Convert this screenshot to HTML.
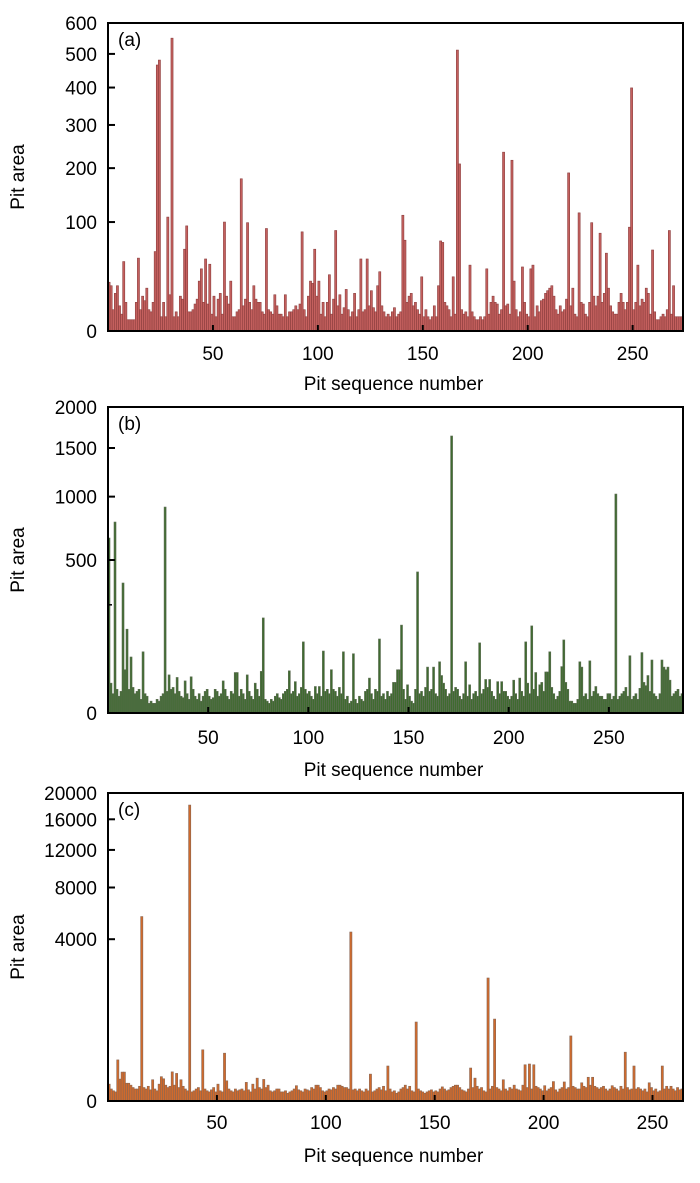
<!DOCTYPE html>
<html><head><meta charset="utf-8"><style>
html,body{margin:0;padding:0;background:#fff;}
svg{display:block;font-family:"Liberation Sans",Arial,sans-serif;}
</style></head><body>
<svg id="fig" width="700" height="1183" viewBox="0 0 700 1183" xmlns="http://www.w3.org/2000/svg"></svg>
<script>
const valuesA = [
25,22,6,16,22,8,4,46,10,2,
2,2,2,10,50,6,14,11,20,6,
5,10,58,466,481,3,10,3,108,15,
550,3,5,3,14,12,61,94,5,5,
6,9,12,26,38,10,49,9,43,4,
14,3,12,16,4,100,14,9,26,3,
3,5,6,178,8,12,99,10,6,22,
12,10,10,5,4,90,6,5,4,15,
8,4,4,3,15,3,5,5,6,8,
6,9,85,6,3,14,26,24,61,14,
26,4,10,3,10,32,4,12,87,8,
15,4,7,19,6,3,5,16,3,6,
49,5,6,49,8,18,7,5,22,35,
8,5,3,4,3,5,7,3,4,5,
111,73,10,14,16,8,10,6,4,30,
3,6,3,2,3,8,3,22,72,70,
10,8,6,3,30,4,512,209,6,4,
5,3,42,5,3,2,2,3,2,3,
38,4,10,14,10,9,4,6,235,8,
9,4,217,26,6,3,5,40,10,4,
3,38,42,3,8,5,11,12,16,18,
20,22,14,6,4,8,5,6,12,190,
8,20,4,3,115,10,9,4,3,10,
99,14,8,14,83,10,16,56,20,8,
5,4,4,10,16,10,6,10,92,399,
6,10,42,8,12,10,20,16,4,60,
5,2,2,3,4,3,6,87,4,22,
3,3,3,3];
const valuesB = [
654,19,8,779,12,6,10,361,40,150,
12,67,14,8,10,12,4,80,8,6,
2,3,2,2,4,3,6,8,906,10,
31,12,14,8,27,10,6,5,22,8,
4,28,12,6,4,8,3,6,10,12,
6,4,5,12,10,6,8,22,12,6,
4,10,8,35,35,6,12,8,4,31,
10,6,4,19,12,6,37,193,4,3,
2,4,3,6,8,5,4,8,10,12,
38,8,10,21,6,8,14,108,12,8,
10,6,4,15,8,15,6,82,10,12,
8,40,12,10,6,14,8,80,4,6,
2,3,75,4,2,6,4,3,10,12,
26,8,4,12,10,117,6,8,4,10,
6,8,20,20,40,40,165,12,4,17,
6,3,2,12,425,8,10,6,14,45,
10,12,45,8,6,56,30,19,12,6,
8,1639,10,14,12,6,4,8,56,6,
17,4,8,10,6,105,8,12,24,14,
24,10,6,4,21,8,21,10,10,6,
4,6,23,8,4,26,10,6,108,19,
8,162,12,35,6,17,20,10,36,36,
80,14,8,4,6,10,46,114,20,12,
3,3,2,2,4,56,45,6,8,4,
58,6,10,15,8,6,6,4,4,8,
8,4,6,1024,4,6,8,10,14,6,
70,4,6,8,4,13,78,20,16,30,
10,60,8,6,4,8,60,45,40,45,
23,6,8,10,12,6,8];
const valuesC = [
14,6,4,3,130,27,54,54,16,16,
12,8,6,6,10,5550,8,6,10,5,
25,6,4,14,35,28,12,8,10,55,
12,48,8,25,10,6,4,18100,3,4,
6,8,4,225,6,4,3,5,8,3,
14,4,3,190,22,6,4,3,6,4,
5,6,4,18,5,3,14,6,30,8,
6,26,8,12,4,3,4,6,6,3,
3,4,2,3,4,6,11,5,4,3,
6,5,4,8,6,12,12,8,4,3,
4,6,5,8,6,12,12,10,8,8,
6,4460,5,6,4,6,4,3,6,4,
45,3,4,6,8,5,10,4,87,6,
3,4,2,3,6,8,12,6,10,4,
3,666,6,4,3,2,3,4,5,3,
4,3,6,9,6,4,5,8,10,12,
12,8,5,4,3,6,75,8,30,10,
6,8,4,3,2016,6,10,730,8,6,
4,25,6,4,8,6,12,6,5,4,
12,95,8,100,6,95,10,8,6,4,
11,4,6,8,20,5,3,6,8,19,
6,8,410,10,8,6,6,17,10,8,
33,12,33,10,8,6,8,10,6,4,
6,11,8,6,4,10,6,200,8,5,
6,87,6,8,6,4,6,3,17,8,
4,6,3,4,87,6,10,6,10,6,
4,8,5,6];
const yTicksA = [0,100,200,300,400,500,600];
const yTicksB = [0,500,1000,1500,2000];
const yMinorB = [250];
const yTicksC = [0,4000,8000,12000,16000,20000];
const xTicks = [50,100,150,200,250];

const NS = "http://www.w3.org/2000/svg";
const svg = document.getElementById('fig');
function mk(tag, attrs, parent){
  const e = document.createElementNS(NS, tag);
  for (const k in attrs) e.setAttribute(k, attrs[k]);
  (parent||svg).appendChild(e);
  return e;
}
const L = 108, R = 683;
function panel(key, vals, yTicks, minor, ymax, pw, top, base, fill, stroke, label, xLabelY, titleY){
  const g = mk('g', {});
  
  
  const n = vals.length;
  const bw = (R - L) / n;
  const xs = v => L + v * bw;
  const ys = v => base - (base - top) * Math.pow(v / ymax, pw);
  const bars = mk('g', {}, g);
  
  
  vals.forEach((v, i) => {
    const y = ys(v);
    const r = mk('rect', {x: xs(i).toFixed(2), y: y.toFixed(2), width: bw.toFixed(2), height: (base - y).toFixed(2), fill: fill, stroke: stroke, 'stroke-width': 0.6}, bars);
    
    
  });
  const frame = mk('rect', {x: L, y: top, width: R - L, height: base - top, fill: 'none', stroke: '#000', 'stroke-width': 2}, g);
  
  
  yTicks.forEach(t => {
    const y = ys(t);
    const tk = mk('line', {x1: L, x2: L + 7, y1: y, y2: y, stroke: '#000', 'stroke-width': 2}, g);
    
    
    const tx = mk('text', {x: 97, y: y + 7, 'text-anchor': 'end', 'font-size': 19, fill: '#000'}, g);
    
    
    tx.textContent = t;
  });
  minor.forEach(t => {
    const y = ys(t);
    const tk = mk('line', {x1: L, x2: L + 4, y1: y, y2: y, stroke: '#000', 'stroke-width': 1.5}, g);
    
    
  });
  xTicks.forEach(t => {
    const x = xs(t);
    const tk = mk('line', {x1: x, x2: x, y1: base, y2: base - 6, stroke: '#000', 'stroke-width': 2}, g);
    
    
    const tx = mk('text', {x: x, y: xLabelY, 'text-anchor': 'middle', 'font-size': 19, fill: '#000'}, g);
    
    
    tx.textContent = t;
  });
  const xt = mk('text', {x: (L + R) / 2 - 2, y: titleY, 'text-anchor': 'middle', 'font-size': 19, fill: '#000'}, g);
  
  
  xt.textContent = 'Pit sequence number';
  const cy = (top + base) / 2;
  const yt = mk('text', {x: 0, y: 0, transform: 'translate(24,' + cy + ') rotate(-90)', 'text-anchor': 'middle', 'font-size': 19, fill: '#000'}, g);
  
  
  yt.textContent = 'Pit area';
  const pl = mk('text', {x: 118, y: top + 23, 'font-size': 19, fill: '#000'}, g);
  
  
  pl.textContent = label;
}
panel('a', valuesA, yTicksA, [], 600, 0.58, 23, 331, '#c4605e', '#8c3e3e', '(a)', 360, 390);
panel('b', valuesB, yTicksB, yMinorB, 2000, 0.5, 407, 713, '#3f6b30', '#5f6e55', '(b)', 744, 776);
panel('c', valuesC, yTicksC, [], 20000, 0.4, 793, 1101, '#d06a2c', '#8a6652', '(c)', 1129, 1162);
</script>
</body></html>
